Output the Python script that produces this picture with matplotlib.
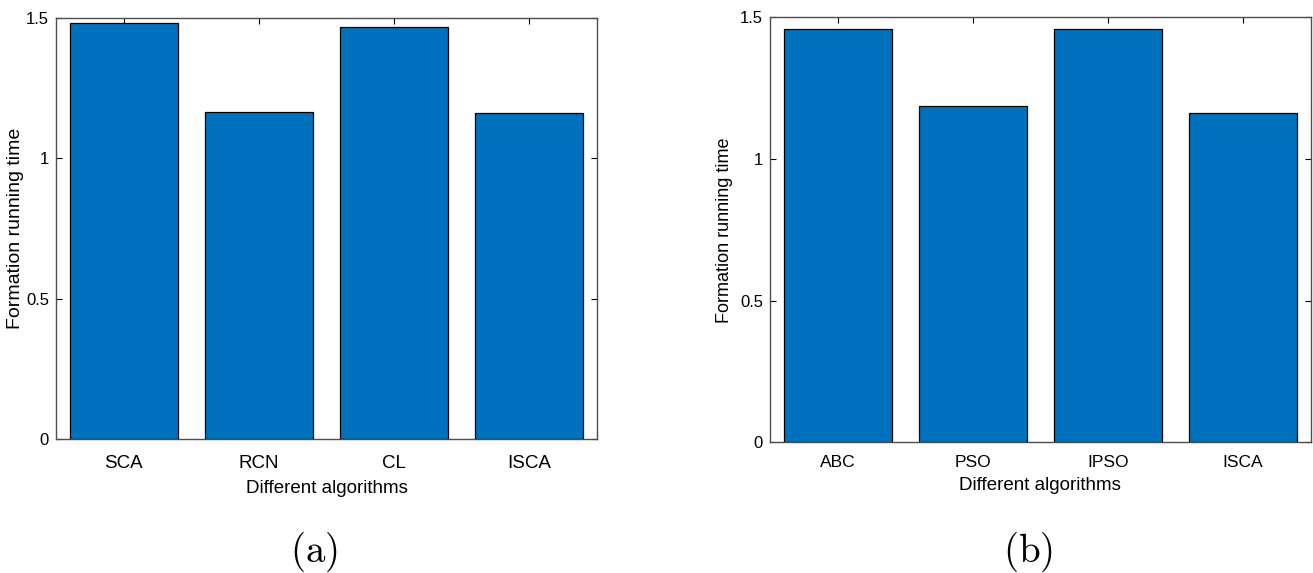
import numpy as np
import matplotlib
matplotlib.use('Agg')
import matplotlib.pyplot as plt

# data for the two panels
algos_a = ['SCA', 'RCN', 'CL', 'ISCA']
time_a = [1.481, 1.163, 1.466, 1.162]

algos_b = ['ABC', 'PSO', 'IPSO', 'ISCA']
time_b = [1.459, 1.186, 1.459, 1.163]

yticks = [0, 0.5, 1, 1.5]
ytick_labels = ['0', '0.5', '1', '1.5']

plt.rcParams['mathtext.fontset'] = 'cm'

W, H = 1313, 573
fig = plt.figure(figsize=(W / 100, H / 100), dpi=100)

bar_color = '#0072BD'
spine_color = '#4d4d4d'


def draw_panel(ax, labels, values, ytick_fs, xtick_fs, xpad, label_fs, labelpad, ylab_fs, ylab_x):
    x = np.arange(1, len(labels) + 1)
    ax.bar(x, values, width=0.8, color=bar_color, edgecolor='black', linewidth=0.9, zorder=2)
    ax.set_xlim(0.5, len(labels) + 0.5)
    ax.set_ylim(0, 1.5)
    ax.set_xticks(x)
    ax.set_xticklabels(labels, family='Liberation Sans', fontsize=xtick_fs)
    ax.set_yticks(yticks)
    ax.set_yticklabels(ytick_labels, family='Liberation Sans', fontsize=ytick_fs)
    ax.tick_params(direction='in', length=4, width=0.8, top=True, right=True,
                   color='black', pad=5)
    ax.tick_params(axis='x', pad=xpad)
    for s in ax.spines.values():
        s.set_color(spine_color)
        s.set_linewidth(1.0)
    ax.set_xlabel('Different algorithms', family='Liberation Sans', fontsize=label_fs,
                  labelpad=labelpad)
    ax.set_ylabel('Formation running time', family='Liberation Sans', fontsize=ylab_fs)
    ax.yaxis.set_label_coords(ylab_x, 0.5)


ax1 = fig.add_axes([56 / W, (H - 439.3) / H, 541 / W, 421.8 / H])
draw_panel(ax1, algos_a, time_a, 12, 13.5, 11, 13.5, 6, 14, -0.059)

ax2 = fig.add_axes([770 / W, (H - 442.3) / H, 540.7 / W, 425 / H])
draw_panel(ax2, algos_b, time_b, 12, 12.5, 9, 13.5, 5, 13, -0.068)

fig.text(314 / W, 1 - 552 / H, r'$\mathrm{(a)}$', fontsize=28, ha='center', va='center')
fig.text(1027.5 / W, 1 - 552 / H, r'$\mathrm{(b)}$', fontsize=28, ha='center', va='center')

fig.savefig('out.png', dpi=100)
